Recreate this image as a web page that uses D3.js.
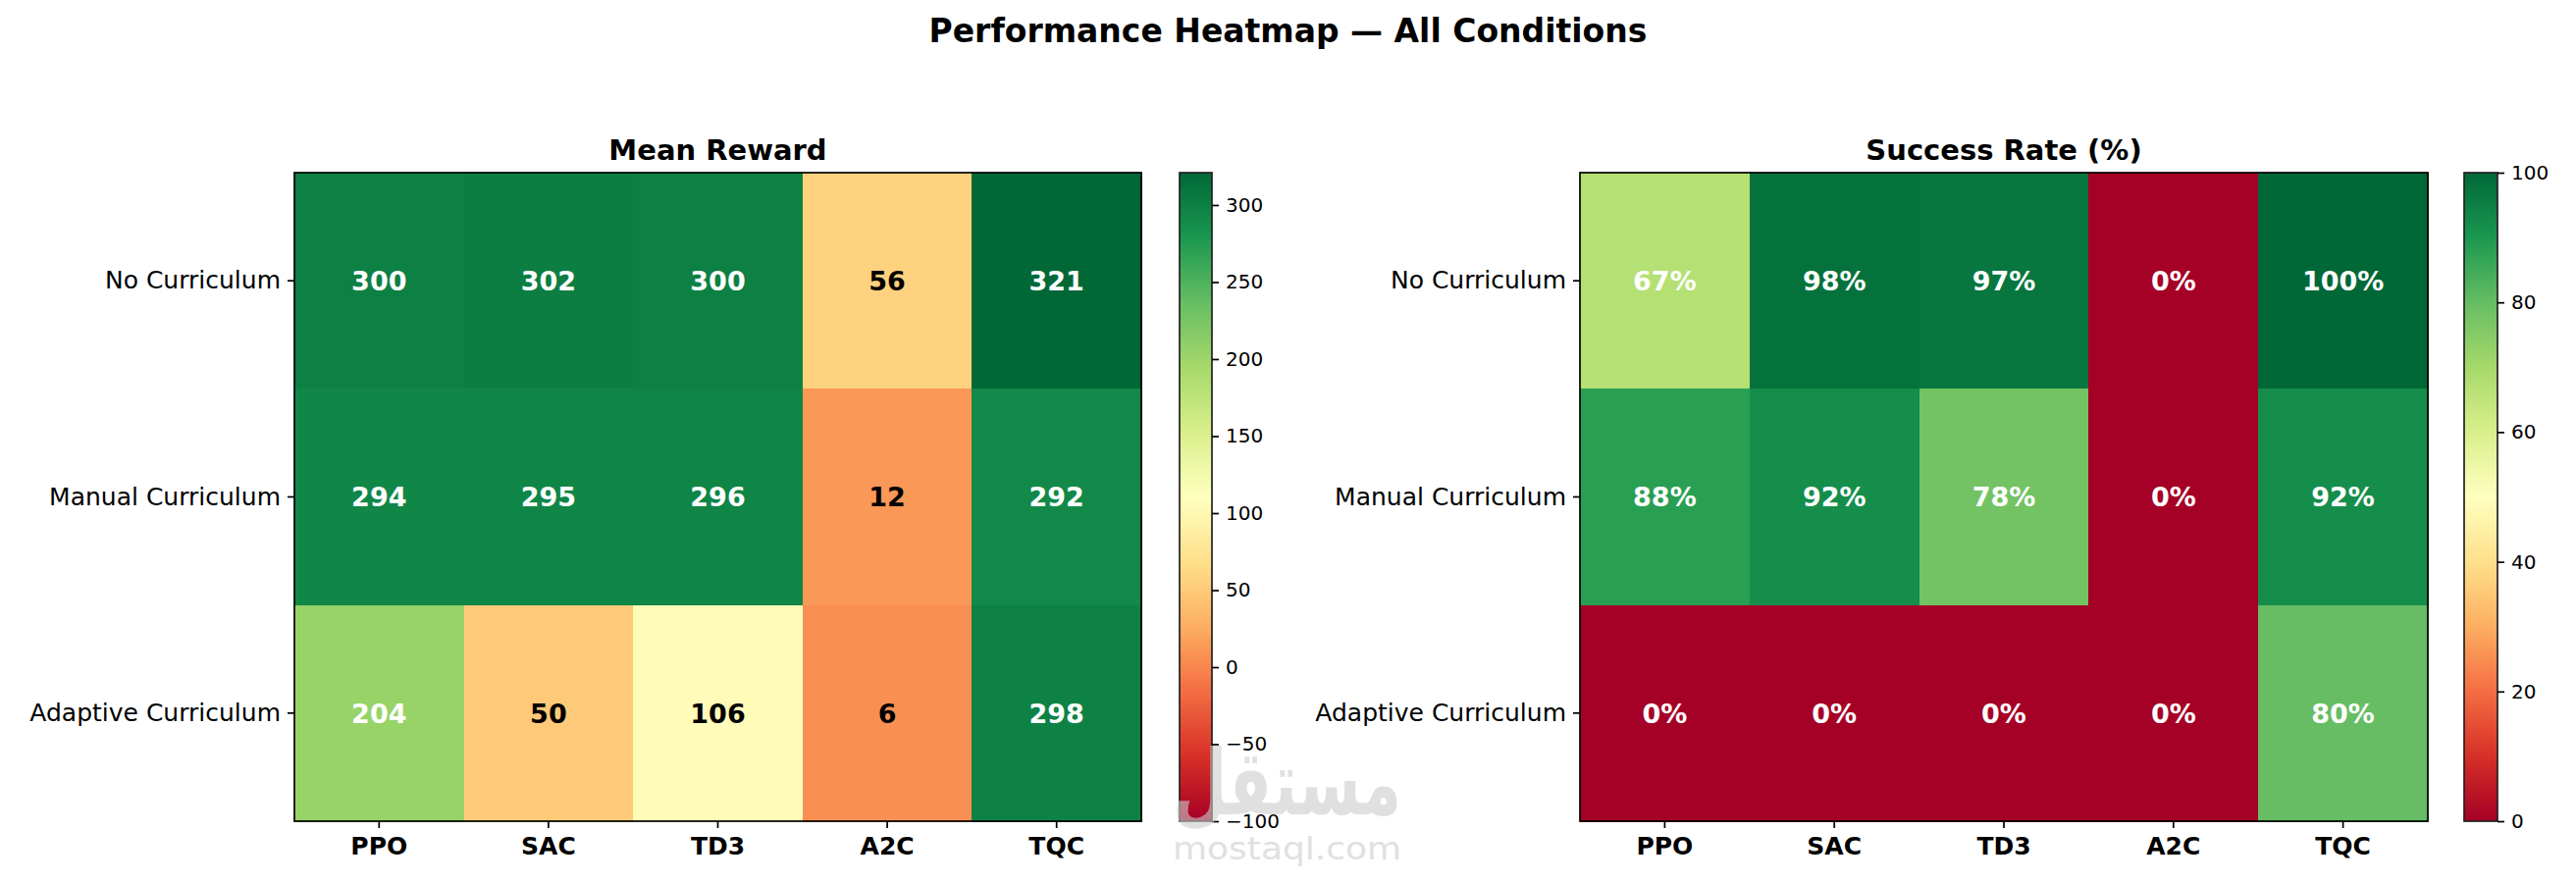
<!DOCTYPE html>
<html><head><meta charset="utf-8">
<script src="https://cdn.jsdelivr.net/npm/d3@7"></script>
<style>body{margin:0;background:#fff} svg{display:block}</style>
</head><body><svg id="c" width="2625" height="900"></svg>
<script>
// ---------- data ----------
const algorithms = ["PPO", "SAC", "TD3", "A2C", "TQC"];
const conditions = ["No Curriculum", "Manual Curriculum", "Adaptive Curriculum"];
const meanReward = [
  [300, 302, 300, 56, 321],
  [294, 295, 296, 12, 292],
  [204, 50, 106, 6, 298]
];
const successRate = [
  [67, 98, 97, 0, 100],
  [88, 92, 78, 0, 92],
  [0, 0, 0, 0, 80]
];
const rewardTicks = [-100, -50, 0, 50, 100, 150, 200, 250, 300];
const successTicks = [0, 20, 40, 60, 80, 100];
const rdylgn = ["#a50026","#d73027","#f46d43","#fdae61","#fee08b","#ffffbf",
                "#d9ef8b","#a6d96a","#66bd63","#1a9850","#006837"];

// ---------- drawing ----------
const svg = d3.select("#c");
const FONT = "'DejaVu Sans', sans-serif";
svg.append("rect").attr("width", 2625).attr("height", 900).attr("fill", "#fff");

svg.append("text")
  .attr("x", 1312.5).attr("y", 43)
  .attr("text-anchor", "middle")
  .attr("font-family", FONT).attr("font-weight", "bold").attr("font-size", 33)
  .text("Performance Heatmap — All Conditions");

const defs = svg.append("defs");

function panel(cfg) {
  const g = svg.append("g");
  const x = d3.scaleBand().domain(algorithms).range([cfg.x0, cfg.x1]).padding(0);
  const y = d3.scaleBand().domain(conditions).range([cfg.y0, cfg.y1]).padding(0);
  const color = d3.scaleLinear()
    .domain(d3.range(rdylgn.length).map(i => cfg.vmin + (cfg.vmax - cfg.vmin) * i / (rdylgn.length - 1)))
    .range(rdylgn).interpolate(d3.interpolateRgb).clamp(true);

  const cells = [];
  cfg.data.forEach((row, i) => row.forEach((v, j) => cells.push({r: conditions[i], c: algorithms[j], v})));

  g.selectAll("rect.cell").data(cells).join("rect")
    .attr("class", "cell")
    .attr("x", d => x(d.c)).attr("y", d => y(d.r))
    .attr("width", x.bandwidth() + 0.5).attr("height", y.bandwidth() + 0.5)
    .attr("fill", d => color(d.v))
    .attr("shape-rendering", "crispEdges");

  g.selectAll("text.ann").data(cells).join("text")
    .attr("class", "ann")
    .attr("x", d => x(d.c) + x.bandwidth() / 2)
    .attr("y", d => y(d.r) + y.bandwidth() / 2)
    .attr("dy", "0.36em")
    .attr("text-anchor", "middle")
    .attr("font-family", FONT).attr("font-weight", "bold").attr("font-size", 27)
    .attr("fill", d => cfg.textColor(d.v))
    .text(d => cfg.fmt(d.v));

  // frame
  g.append("rect")
    .attr("x", cfg.x0).attr("y", cfg.y0)
    .attr("width", cfg.x1 - cfg.x0).attr("height", cfg.y1 - cfg.y0)
    .attr("fill", "none").attr("stroke", "#000").attr("stroke-width", 1.7);

  // axes
  const ax = g.append("g").attr("transform", `translate(0,${cfg.y1})`)
    .call(d3.axisBottom(x).tickSize(7).tickPadding(9));
  ax.select(".domain").remove();
  ax.selectAll("line").attr("stroke", "#000").attr("stroke-width", 1.7);
  ax.selectAll("text").attr("font-family", FONT).attr("font-weight", "bold")
    .attr("font-size", 25).attr("fill", "#000");

  const ay = g.append("g").attr("transform", `translate(${cfg.x0},0)`)
    .call(d3.axisLeft(y).tickSize(7).tickPadding(7));
  ay.select(".domain").remove();
  ay.selectAll("line").attr("stroke", "#000").attr("stroke-width", 1.7);
  ay.selectAll("text").attr("font-family", FONT).attr("font-size", 25).attr("fill", "#000");

  // title
  g.append("text")
    .attr("x", (cfg.x0 + cfg.x1) / 2).attr("y", cfg.y0 - 13)
    .attr("text-anchor", "middle")
    .attr("font-family", FONT).attr("font-weight", "bold").attr("font-size", 29)
    .text(cfg.title);

  // colorbar
  const cb = d3.scaleLinear().domain([cfg.vmin, cfg.vmax]).range([cfg.y1, cfg.y0]);
  const gid = "grad" + cfg.id;
  const grad = defs.append("linearGradient").attr("id", gid)
    .attr("x1", 0).attr("y1", 1).attr("x2", 0).attr("y2", 0);
  d3.range(0, 1.0001, 0.01).forEach(t => {
    grad.append("stop").attr("offset", t)
      .attr("stop-color", color(cfg.vmin + t * (cfg.vmax - cfg.vmin)));
  });
  g.append("rect")
    .attr("x", cfg.cbx0).attr("y", cfg.y0)
    .attr("width", cfg.cbx1 - cfg.cbx0).attr("height", cfg.y1 - cfg.y0)
    .attr("fill", `url(#${gid})`)
    .attr("stroke", "#222").attr("stroke-width", 1.7);
  const ac = g.append("g").attr("transform", `translate(${cfg.cbx1},0)`)
    .call(d3.axisRight(cb).tickValues(cfg.ticks).tickSize(7).tickPadding(7).tickFormat(d3.format("d")));
  ac.select(".domain").remove();
  ac.selectAll("line").attr("stroke", "#000").attr("stroke-width", 1.7);
  ac.selectAll("text").attr("font-family", FONT).attr("font-size", 20).attr("fill", "#000");
}

panel({
  id: "L", x0: 300, x1: 1163, y0: 176, y1: 837, cbx0: 1202, cbx1: 1235,
  data: meanReward, vmin: -100, vmax: 321, ticks: rewardTicks,
  title: "Mean Reward", fmt: v => String(v),
  textColor: v => (v > 150 ? "#fff" : "#000")
});
panel({
  id: "R", x0: 1610, x1: 2474, y0: 176, y1: 837, cbx0: 2511, cbx1: 2545,
  data: successRate, vmin: 0, vmax: 100, ticks: successTicks,
  title: "Success Rate (%)", fmt: v => v + "%",
  textColor: v => "#fff"
});

// watermark
const wm = svg.append("g").attr("opacity", 0.6).attr("fill", "#cccccc");
wm.append("text").attr("x", 1195).attr("y", 830)
  .attr("font-family", FONT).attr("font-weight", "bold").attr("font-size", 92)
  .attr("textLength", 233).attr("lengthAdjust", "spacingAndGlyphs")
  .text("مستقل");
wm.append("text").attr("x", 1195).attr("y", 876)
  .attr("font-family", FONT).attr("font-size", 32)
  .attr("textLength", 233).attr("lengthAdjust", "spacingAndGlyphs")
  .text("mostaql.com");
</script>
</body></html>
